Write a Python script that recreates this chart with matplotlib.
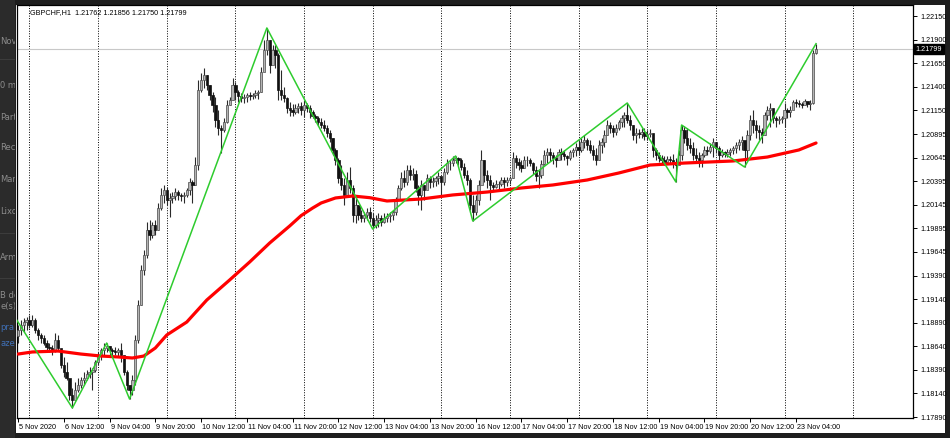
import numpy as np
import pandas as pd
import matplotlib
matplotlib.use("Agg")
import matplotlib.pyplot as plt
from matplotlib.patches import Rectangle
import matplotlib.transforms as mtransforms

# chart data (GBPCHF H1)
symbol = "GBPCHF,H1"
first_time = "2020-11-05 20:00"
first_open = 1.18750
last_ohlc = [1.21762, 1.21856, 1.21750, 1.21799]

highs = [
    1.18868, 1.18921, 1.18942, 1.18952, 1.18974, 1.18974, 1.18942, 1.18836, 1.18783, 1.18761,
    1.18708, 1.18676, 1.18655, 1.18783, 1.18761, 1.18549, 1.18528, 1.18474, 1.18283, 1.18198,
    1.18262, 1.18305, 1.18315, 1.18368, 1.18389, 1.18421, 1.18411, 1.18496, 1.18581, 1.18623,
    1.18676, 1.18676, 1.18644, 1.18623, 1.18634, 1.18623, 1.18676, 1.18496, 1.18389, 1.18230,
    1.18336, 1.18761, 1.19133, 1.19505, 1.19664, 1.19962, 1.19983, 1.19962, 1.19983, 1.20164,
    1.20323, 1.20355, 1.20333, 1.20270, 1.20280, 1.20323, 1.20302, 1.20270, 1.20280, 1.20323,
    1.20429, 1.20408, 1.20652, 1.21470, 1.21545, 1.21598, 1.21523, 1.21417, 1.21343, 1.21290,
    1.21151, 1.20992, 1.21066, 1.21258, 1.21290, 1.21491, 1.21449, 1.21364, 1.21332, 1.21321,
    1.21332, 1.21343, 1.21332, 1.21364, 1.21364, 1.21608, 1.21895, 1.22023, 1.21895, 1.21842,
    1.21842, 1.21757, 1.21576, 1.21396, 1.21290, 1.21236, 1.21215, 1.21215, 1.21226, 1.21236,
    1.21258, 1.21226, 1.21205, 1.21151, 1.21109, 1.21088, 1.21066, 1.21045, 1.20992, 1.20939,
    1.20854, 1.20748, 1.20642, 1.20567, 1.20429, 1.20493, 1.20546, 1.20355, 1.20217, 1.20143,
    1.20089, 1.20068, 1.20110, 1.20121, 1.20057, 1.20036, 1.20057, 1.20036, 1.20057, 1.20057,
    1.20068, 1.20089, 1.20227, 1.20355, 1.20493, 1.20514, 1.20567, 1.20567, 1.20535, 1.20514,
    1.20355, 1.20408, 1.20355, 1.20472, 1.20450, 1.20440, 1.20450, 1.20493, 1.20429, 1.20535,
    1.20631, 1.20620, 1.20663, 1.20663, 1.20652, 1.20642, 1.20588, 1.20514, 1.20429, 1.20249,
    1.20249, 1.20408, 1.20727, 1.20620, 1.20514, 1.20461, 1.20387, 1.20408, 1.20397, 1.20440,
    1.20440, 1.20440, 1.20450, 1.20705, 1.20673, 1.20642, 1.20620, 1.20663, 1.20663, 1.20642,
    1.20599, 1.20557, 1.20514, 1.20620, 1.20727, 1.20748, 1.20748, 1.20705, 1.20673, 1.20737,
    1.20748, 1.20727, 1.20673, 1.20727, 1.20748, 1.20801, 1.20833, 1.20854, 1.20886, 1.20854,
    1.20833, 1.20780, 1.20748, 1.20833, 1.20854, 1.20939, 1.21045, 1.21024, 1.20992, 1.21003,
    1.21045, 1.21098, 1.21130, 1.21226, 1.21098, 1.20992, 1.20960, 1.20950, 1.20960, 1.20960,
    1.20939, 1.20950, 1.20854, 1.20748, 1.20705, 1.20673, 1.20663, 1.20663, 1.20663, 1.20684,
    1.20642, 1.20727, 1.20992, 1.20982, 1.20960, 1.20854, 1.20812, 1.20748, 1.20705, 1.20695,
    1.20769, 1.20769, 1.20801, 1.20854, 1.20812, 1.20769, 1.20737, 1.20716, 1.20737, 1.20748,
    1.20769, 1.20812, 1.20843, 1.20875, 1.20780, 1.20939, 1.21098, 1.21151, 1.21045, 1.20992,
    1.20960, 1.21130, 1.21194, 1.21226, 1.21130, 1.21088, 1.21088, 1.21088, 1.21226, 1.21173,
    1.21194, 1.21258, 1.21268, 1.21258, 1.21236, 1.21268, 1.21236, 1.21258, 1.21789, 1.21856,
]

lows = [
    1.18676, 1.18761, 1.18793, 1.18814, 1.18836, 1.18846, 1.18783, 1.18708, 1.18676, 1.18655,
    1.18602, 1.18581, 1.18549, 1.18581, 1.18602, 1.18411, 1.18315, 1.18283, 1.18071, 1.17986,
    1.18071, 1.18156, 1.18198, 1.18230, 1.18283, 1.18305, 1.18177, 1.18368, 1.18443, 1.18496,
    1.18549, 1.18581, 1.18538, 1.18538, 1.18549, 1.18538, 1.18474, 1.18336, 1.18177, 1.18081,
    1.18124, 1.18230, 1.18676, 1.19080, 1.19399, 1.19579, 1.19770, 1.19792, 1.19824, 1.19877,
    1.20089, 1.20164, 1.20143, 1.20015, 1.20164, 1.20195, 1.20195, 1.20185, 1.20164, 1.20227,
    1.20249, 1.20164, 1.20355, 1.20514, 1.21343, 1.21385, 1.21364, 1.21258, 1.21130, 1.20971,
    1.20886, 1.20695, 1.20918, 1.21013, 1.21205, 1.21258, 1.21258, 1.21236, 1.21236, 1.21226,
    1.21236, 1.21258, 1.21268, 1.21279, 1.21268, 1.21343, 1.21576, 1.21736, 1.21545, 1.21683,
    1.21598, 1.21258, 1.21258, 1.21236, 1.21120, 1.21088, 1.21088, 1.21109, 1.21120, 1.21098,
    1.21077, 1.21130, 1.21066, 1.21066, 1.21024, 1.20982, 1.20960, 1.20928, 1.20865, 1.20812,
    1.20673, 1.20567, 1.20376, 1.20302, 1.20143, 1.20249, 1.20270, 1.19962, 1.19951, 1.19983,
    1.19962, 1.19962, 1.19983, 1.19962, 1.19887, 1.19898, 1.19909, 1.19919, 1.19951, 1.19962,
    1.19962, 1.19983, 1.20036, 1.20195, 1.20302, 1.20333, 1.20355, 1.20408, 1.20408, 1.20280,
    1.20143, 1.20089, 1.20195, 1.20355, 1.20323, 1.20333, 1.20344, 1.20365, 1.20238, 1.20355,
    1.20472, 1.20514, 1.20557, 1.20588, 1.20567, 1.20514, 1.20429, 1.20355, 1.20089, 1.19972,
    1.20036, 1.20143, 1.20408, 1.20387, 1.20323, 1.20195, 1.20291, 1.20323, 1.20312, 1.20344,
    1.20323, 1.20344, 1.20365, 1.20429, 1.20535, 1.20514, 1.20493, 1.20535, 1.20557, 1.20557,
    1.20472, 1.20397, 1.20323, 1.20429, 1.20567, 1.20588, 1.20610, 1.20578, 1.20546, 1.20642,
    1.20620, 1.20620, 1.20567, 1.20620, 1.20652, 1.20663, 1.20673, 1.20705, 1.20748, 1.20727,
    1.20695, 1.20620, 1.20567, 1.20620, 1.20695, 1.20758, 1.20886, 1.20907, 1.20865, 1.20886,
    1.20939, 1.20971, 1.20971, 1.21013, 1.20939, 1.20833, 1.20801, 1.20854, 1.20854, 1.20833,
    1.20833, 1.20865, 1.20652, 1.20620, 1.20599, 1.20588, 1.20567, 1.20578, 1.20578, 1.20535,
    1.20387, 1.20567, 1.20620, 1.20801, 1.20727, 1.20695, 1.20620, 1.20588, 1.20546, 1.20546,
    1.20652, 1.20673, 1.20695, 1.20652, 1.20695, 1.20620, 1.20652, 1.20652, 1.20652, 1.20663,
    1.20684, 1.20695, 1.20727, 1.20727, 1.20546, 1.20620, 1.20833, 1.20907, 1.20854, 1.20833,
    1.20801, 1.20886, 1.21045, 1.20971, 1.21013, 1.20971, 1.21003, 1.21013, 1.20971, 1.21066,
    1.21077, 1.21173, 1.21183, 1.21183, 1.21173, 1.21205, 1.21183, 1.21151, 1.21215, 1.21750,
]

closes = [
    1.18814, 1.18868, 1.18899, 1.18921, 1.18868, 1.18921, 1.18814, 1.18761, 1.18729, 1.18676,
    1.18634, 1.18623, 1.18602, 1.18708, 1.18623, 1.18443, 1.18368, 1.18305, 1.18124, 1.18071,
    1.18177, 1.18230, 1.18283, 1.18305, 1.18347, 1.18368, 1.18389, 1.18474, 1.18549, 1.18602,
    1.18623, 1.18644, 1.18602, 1.18591, 1.18581, 1.18602, 1.18549, 1.18368, 1.18230, 1.18177,
    1.18283, 1.18708, 1.19080, 1.19452, 1.19611, 1.19877, 1.19824, 1.19930, 1.19877, 1.20110,
    1.20249, 1.20302, 1.20195, 1.20217, 1.20238, 1.20280, 1.20249, 1.20238, 1.20249, 1.20302,
    1.20387, 1.20355, 1.20567, 1.21364, 1.21470, 1.21523, 1.21417, 1.21311, 1.21205, 1.21045,
    1.20960, 1.20939, 1.21024, 1.21205, 1.21258, 1.21417, 1.21343, 1.21300, 1.21279, 1.21290,
    1.21311, 1.21300, 1.21311, 1.21332, 1.21343, 1.21555, 1.21789, 1.21895, 1.21630, 1.21789,
    1.21736, 1.21364, 1.21311, 1.21279, 1.21173, 1.21151, 1.21130, 1.21173, 1.21194, 1.21151,
    1.21205, 1.21173, 1.21130, 1.21088, 1.21066, 1.21024, 1.20992, 1.20960, 1.20907, 1.20854,
    1.20727, 1.20620, 1.20429, 1.20355, 1.20249, 1.20408, 1.20323, 1.20036, 1.20143, 1.20036,
    1.20004, 1.20036, 1.20068, 1.20004, 1.19930, 1.19983, 1.20004, 1.19962, 1.20004, 1.20025,
    1.20036, 1.20068, 1.20195, 1.20323, 1.20429, 1.20387, 1.20514, 1.20461, 1.20472, 1.20323,
    1.20249, 1.20355, 1.20302, 1.20429, 1.20387, 1.20397, 1.20429, 1.20450, 1.20387, 1.20493,
    1.20588, 1.20588, 1.20620, 1.20642, 1.20620, 1.20546, 1.20461, 1.20408, 1.20143, 1.20068,
    1.20195, 1.20355, 1.20620, 1.20461, 1.20408, 1.20355, 1.20333, 1.20365, 1.20365, 1.20408,
    1.20387, 1.20408, 1.20429, 1.20642, 1.20599, 1.20567, 1.20535, 1.20620, 1.20620, 1.20588,
    1.20514, 1.20450, 1.20461, 1.20578, 1.20673, 1.20705, 1.20673, 1.20642, 1.20620, 1.20705,
    1.20684, 1.20663, 1.20642, 1.20705, 1.20727, 1.20758, 1.20727, 1.20812, 1.20833, 1.20780,
    1.20727, 1.20673, 1.20620, 1.20780, 1.20812, 1.20886, 1.20992, 1.20960, 1.20918, 1.20960,
    1.21024, 1.21066, 1.21098, 1.21045, 1.20992, 1.20886, 1.20907, 1.20897, 1.20918, 1.20875,
    1.20897, 1.20907, 1.20727, 1.20673, 1.20642, 1.20620, 1.20599, 1.20631, 1.20620, 1.20578,
    1.20567, 1.20673, 1.20939, 1.20854, 1.20780, 1.20748, 1.20673, 1.20642, 1.20620, 1.20673,
    1.20727, 1.20716, 1.20758, 1.20812, 1.20748, 1.20673, 1.20705, 1.20684, 1.20705, 1.20727,
    1.20748, 1.20780, 1.20812, 1.20833, 1.20727, 1.20886, 1.21045, 1.20992, 1.20939, 1.20918,
    1.20886, 1.21098, 1.21151, 1.21173, 1.21066, 1.21045, 1.21056, 1.21066, 1.21151, 1.21130,
    1.21151, 1.21236, 1.21226, 1.21215, 1.21205, 1.21247, 1.21215, 1.21226, 1.21762, 1.21799,
]

# zigzag pivots (bar index, price); first pivot lies just left of the visible area
zz_bars = [-2, 19, 31, 39, 87, 124, 153, 159, 213, 230, 232, 254, 279]
zz_prices = [1.18995, 1.17986, 1.18676, 1.18081, 1.22023, 1.19887, 1.20663,
             1.19972, 1.21226, 1.20387, 1.20992, 1.20546, 1.21856]

# red moving average, read at a number of bars
ma_bars = [0, 5, 14, 22, 29, 35, 40, 44, 48, 52, 59, 66, 74, 81, 88, 95, 99, 103, 106,
           111, 117, 123, 129, 141, 152, 164, 176, 187, 199, 210, 221, 233, 250, 262, 273, 279]
ma_prices = [1.18559, 1.18581, 1.18591, 1.18559, 1.18538, 1.18528, 1.18517, 1.18538,
             1.18623, 1.18761, 1.18899, 1.19133, 1.19346, 1.19537, 1.19739, 1.19920,
             1.20030, 1.20110, 1.20164, 1.20217, 1.20238, 1.20220, 1.20185, 1.20206,
             1.20249, 1.20280, 1.20323, 1.20355, 1.20408, 1.20482, 1.20567, 1.20588,
             1.20610, 1.20652, 1.20727, 1.20801]

ytick_vals = [1.22150, 1.21900, 1.21650, 1.21400, 1.21150, 1.20895, 1.20645, 1.20395,
              1.20145, 1.19895, 1.19645, 1.19390, 1.19140, 1.18890, 1.18640, 1.18390,
              1.18140, 1.17890]

# side panel scraps from the window behind the terminal
panel_texts = [("Nov", 42, "#8c8c8c"), ("0 m", 85, "#8c8c8c"), ("Part", 117, "#8c8c8c"),
               ("Rec", 148, "#8c8c8c"), ("Man", 180, "#8c8c8c"), ("Lixo", 212, "#8c8c8c"),
               ("Arm", 258, "#8c8c8c"), ("B de", 295, "#8c8c8c"), ("e(s)", 307, "#8c8c8c"),
               ("pra", 328, "#3f6fb5"), ("azer", 343, "#3f6fb5")]

W, H = 950, 438
fig = plt.figure(figsize=(W / 100, H / 100), dpi=100, facecolor="#1e1e1e")

# white terminal window, behind the axes
fig.patches.append(Rectangle((16 / W, 1 - 433 / H), (945 - 16) / W, (433 - 5) / H,
                             transform=fig.transFigure, facecolor="white", edgecolor="none", zorder=-5))

# dark left panel
pan = fig.add_axes([0, 0, 15 / W, 1])
pan.set_facecolor("#2b2b2b")
pan.set_xlim(0, 15)
pan.set_ylim(H, 0)
pan.set_xticks([])
pan.set_yticks([])
for s in pan.spines.values():
    s.set_visible(False)
for yy in [59, 233, 278]:
    pan.axhline(yy, color="#3c3c3c", lw=0.8)
for txt, yy, col in panel_texts:
    pan.text(0.3, yy, txt, ha="left", va="center", fontsize=6, color=col,
             family="DejaVu Sans", clip_on=True)

# main chart
ax = fig.add_axes([17 / W, 1 - 418 / H, (913 - 17) / W, (418 - 5) / H])
ax.set_facecolor("white")

n = len(closes)
o = np.array([first_open] + closes[:-1])
c = np.array(closes)
hi = np.array(highs)
lo = np.array(lows)
x = np.arange(n)

times = pd.date_range(first_time, periods=24 * 20, freq="h")
times = times[times.dayofweek < 5]

xmin, xmax = -0.35, 312.9
ax.set_xlim(xmin, xmax)
ax.set_ylim(1.178796, 1.222669)

# vertical dotted grid at each midnight
for i, t in enumerate(times):
    if i > xmax:
        break
    if t.hour == 0:
        ax.axvline(i, color="black", lw=0.7, ls=(0, (1, 1.6)), zorder=1)

# price line
ax.axhline(last_ohlc[3], color="#c8c8c8", lw=0.8, zorder=1)

# candles (bull bodies look grey in the downscaled screenshot)
ax.vlines(x, lo, hi, color="#2a2a2a", lw=0.8, zorder=3)
up = c >= o
body = np.where(np.abs(c - o) < 0.00004, 0.00004, np.abs(c - o))
ax.bar(x[up], body[up], bottom=o[up], width=0.8, facecolor="#b4b4b4",
       edgecolor="#4a4a4a", lw=0.5, zorder=4)
ax.bar(x[~up], body[~up], bottom=c[~up], width=0.8, facecolor="#111111",
       edgecolor="#111111", lw=0.5, zorder=4)

# indicators
ax.plot(ma_bars, ma_prices, color="#ff0000", lw=2.3, solid_capstyle="round",
        solid_joinstyle="round", zorder=5)
ax.plot(zz_bars, zz_prices, color="#2ecc2e", lw=1.1, zorder=6)

# x labels every 16 bars, left aligned to their tick
tick_pos = list(range(0, n, 16))
tick_lab = []
for i in tick_pos:
    t = times[i]
    if i == 0:
        tick_lab.append(f"{t.day} {t:%b %Y}")
    else:
        tick_lab.append(f"{t.day} {t:%b %H:%M}")
ax.set_xticks(tick_pos)
ax.set_xticklabels(tick_lab, ha="left", fontsize=5.2, family="Liberation Sans")
ax.tick_params(axis="x", length=3, width=0.7, pad=1.5, colors="black")
offs = mtransforms.ScaledTranslation(1 / 100, 0, fig.dpi_scale_trans)
for lab in ax.get_xticklabels():
    lab.set_transform(lab.get_transform() + offs)

ax.yaxis.tick_right()
ax.set_yticks(ytick_vals)
ax.set_yticklabels([f"{v:.5f}" for v in ytick_vals], fontsize=5.2, family="Liberation Sans")
ax.tick_params(axis="y", length=3, width=0.7, pad=2, colors="black")

for s in ax.spines.values():
    s.set_color("black")
    s.set_linewidth(0.9)

# header
ax.text(13 / 896, 1 - 8 / 413, f"{symbol}  " + " ".join(f"{v:.5f}" for v in last_ohlc),
        transform=ax.transAxes, fontsize=5.2, family="Liberation Sans", color="black",
        ha="left", va="center")

# current price tag on the axis
tr = mtransforms.blended_transform_factory(ax.transAxes, ax.transData)
ax.text(1.003, last_ohlc[3], f"{last_ohlc[3]:.5f}", transform=tr, fontsize=5.2,
        family="Liberation Sans", color="white", ha="left", va="center", zorder=10,
        bbox=dict(boxstyle="square,pad=0.25", facecolor="black", edgecolor="black"),
        clip_on=False)

fig.savefig("out.png", dpi=100, facecolor=fig.get_facecolor())
